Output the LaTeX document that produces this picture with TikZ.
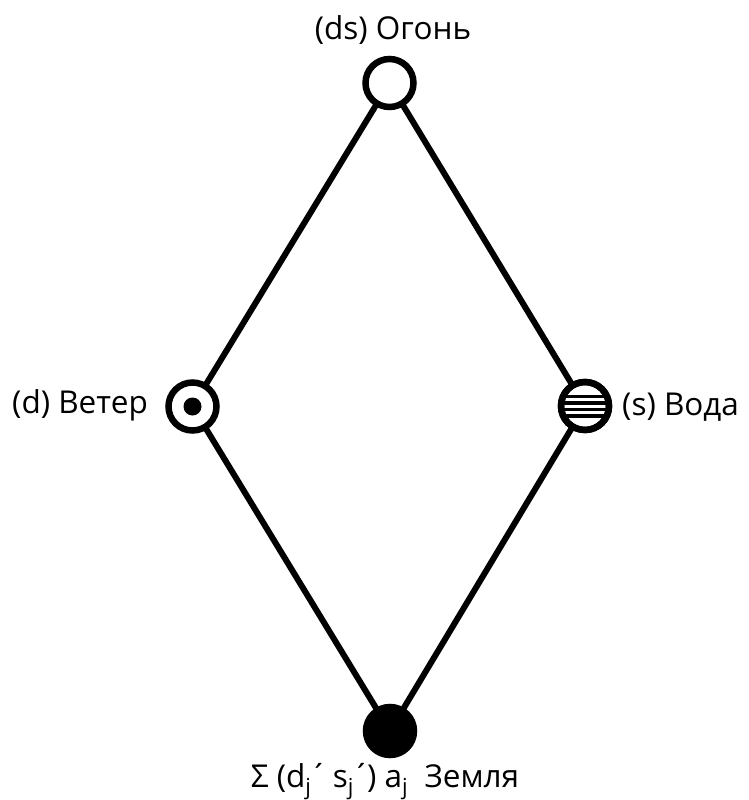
\documentclass[tikz,border=0pt]{standalone}
\usepackage{fontspec}
\setmainfont{Open Sans}
\newcommand\acc{\kern-0.06em´\kern-0.1em}
\begin{document}
\begin{tikzpicture}[x=1pt,y=-1pt,
  elem/.style={circle,draw,line width=6.5pt,minimum size=48pt,inner sep=0pt,fill=white},
  conn/.style={line width=6pt,shorten >=-4pt,shorten <=-4pt},
  lbl/.style={font=\fontsize{31.5}{36}\selectfont,inner sep=0pt}]
\useasboundingbox (0,0) rectangle (748,800);
\node[elem] (fire) at (389.5,83) {};
\node[elem] (wind) at (192.5,406.5) {};
\node[elem] (water) at (585,406) {};
\node[elem,fill=black] (earth) at (390,731) {};
\draw[conn] (fire) -- (wind);
\draw[conn] (fire) -- (water);
\draw[conn] (wind) -- (earth);
\draw[conn] (water) -- (earth);
\fill (wind.center) circle (9);
\begin{scope}
  \clip (water.center) circle (24);
  \foreach \dy in {-9.75,-3.25,3.25,9.75}
    \draw[line width=3.5pt] (water.center) ++(-26,\dy) -- ++(52,0);
\end{scope}
\draw[line width=6.5pt] (water.center) circle (24);
\node[lbl,anchor=base] (tfire) at (393,40) {(ds) Огонь};
\node[lbl,anchor=base east] (twind) at (148,413) {(d) Ветер};
\node[lbl,anchor=base west] (twater) at (622,415) {(s) Вода};
\node[lbl,anchor=base] (tearth) at (385,787) {Σ (d\textsubscript{j}\acc{} s\textsubscript{j}\acc) a\textsubscript{j}\ \ Земля};
\end{tikzpicture}
\end{document}
